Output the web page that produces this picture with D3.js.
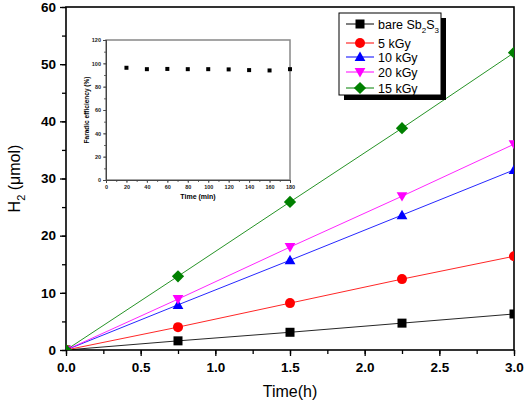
<!DOCTYPE html>
<html><head><meta charset="utf-8">
<script src="https://cdn.jsdelivr.net/npm/d3@7"></script>
<style>body{margin:0;background:#fff}svg{display:block}text{font-family:Arial,"Liberation Sans",sans-serif}</style>
</head><body><svg id="c" width="524" height="403"></svg>
<script>
const times = [0, 0.75, 1.5, 2.25, 3.0];
const seriesNames = ["bare Sb2S3", "5 kGy", "10 kGy", "20 kGy", "15 kGy"];
const bareVals = [0, 1.6, 3.1, 4.7, 6.3];
const kGy5Vals = [0, 4.0, 8.2, 12.4, 16.4];
const kGy10Vals = [0, 7.9, 15.7, 23.6, 31.5];
const kGy20Vals = [0, 8.9, 18.0, 26.9, 36.0];
const kGy15Vals = [0, 12.9, 25.9, 38.8, 52.0];
const seriesColors = ["#000000", "#ff0000", "#0000ff", "#ff00ff", "#008000"];
const seriesSymbols = ["square", "circle", "triangle", "invtriangle", "diamond"];
const xTicks = [0, 0.5, 1.0, 1.5, 2.0, 2.5, 3.0];
const yTicks = [0, 10, 20, 30, 40, 50, 60];
const insetTimes = [20, 40, 60, 80, 100, 120, 140, 160, 180];
const insetEff = [96.2, 95.0, 95.2, 95.0, 95.0, 94.8, 94.2, 93.9, 95.0];
const insetXTicks = [0, 20, 40, 60, 80, 100, 120, 140, 160, 180];
const insetYTicks = [0, 20, 40, 60, 80, 100, 120];

const allVals = [bareVals, kGy5Vals, kGy10Vals, kGy20Vals, kGy15Vals];
const svg = d3.select("#c");
const L = 66, R = 514, T = 7, B = 350;
const x = d3.scaleLinear().domain([0, 3]).range([L, R]);
const y = d3.scaleLinear().domain([0, 60]).range([B, T]);

svg.append("defs").append("clipPath").attr("id", "pc")
  .append("rect").attr("x", L).attr("y", T).attr("width", R - L).attr("height", B - T);

// ticks
const xAxisG = svg.append("g").attr("transform", `translate(0,${B})`);
xAxisG.call(d3.axisBottom(x).tickValues(d3.range(0, 3.01, 0.25)).tickSize(4).tickFormat(""));
xAxisG.append("g").call(d3.axisBottom(x).tickValues(xTicks).tickSize(6).tickPadding(6).tickFormat(d3.format(".1f")));
const yAxisG = svg.append("g").attr("transform", `translate(${L},0)`);
yAxisG.call(d3.axisLeft(y).tickValues(d3.range(0, 61, 5)).tickSize(4).tickFormat(""));
yAxisG.append("g").call(d3.axisLeft(y).tickValues(yTicks).tickSize(6).tickPadding(4));
svg.selectAll(".domain").remove();
svg.selectAll(".tick line").attr("stroke", "#000").attr("stroke-width", 1.3);
svg.selectAll(".tick text").attr("font-size", 13.5).attr("font-weight", "bold").attr("fill", "#000");

// frame
svg.append("rect").attr("x", L).attr("y", T).attr("width", R - L).attr("height", B - T)
  .attr("fill", "none").attr("stroke", "#000").attr("stroke-width", 1.6);

// axis titles
svg.append("text").attr("x", (L + R) / 2).attr("y", 397).attr("text-anchor", "middle")
  .attr("font-size", 16).text("Time(h)");
const yt = svg.append("text").attr("transform", `translate(20,${(T + B) / 2}) rotate(-90)`)
  .attr("text-anchor", "middle").attr("font-size", 16);
yt.append("tspan").text("H");
yt.append("tspan").attr("font-size", 11).attr("dy", 5).text("2");
yt.append("tspan").attr("dy", -5).text(" (\u03bcmol)");

// inset
const iL = 106, iR = 290, iT = 40, iB = 180;
const ix = d3.scaleLinear().domain([0, 180]).range([iL, iR]);
const iy = d3.scaleLinear().domain([0, 120]).range([iB, iT]);
const ig = svg.append("g");
ig.append("rect").attr("x", iL).attr("y", iT).attr("width", iR - iL).attr("height", iB - iT)
  .attr("fill", "#fff").attr("stroke", "#888").attr("stroke-width", 1.5);
const ixa = ig.append("g").attr("transform", `translate(0,${iB})`);
ixa.call(d3.axisBottom(ix).tickValues(d3.range(0, 181, 10)).tickSize(2).tickFormat(""));
ixa.append("g").call(d3.axisBottom(ix).tickValues(insetXTicks).tickSize(3).tickPadding(2));
const iya = ig.append("g").attr("transform", `translate(${iL},0)`);
iya.call(d3.axisLeft(iy).tickValues(d3.range(0, 121, 10)).tickSize(2).tickFormat(""));
iya.append("g").call(d3.axisLeft(iy).tickValues(insetYTicks).tickSize(3).tickPadding(2));
ig.selectAll(".domain").attr("stroke", "#444");
ig.selectAll(".tick line").attr("stroke", "#444").attr("stroke-width", 0.8);
ig.selectAll(".tick text").attr("font-size", 5.5).attr("font-weight", "bold").attr("fill", "#222");
ig.selectAll("rect.pt").data(insetTimes).enter().append("rect")
  .attr("x", (d) => ix(d) - 2).attr("y", (d, i) => iy(insetEff[i]) - 2)
  .attr("width", 4).attr("height", 4).attr("fill", "#000");
ig.append("text").attr("x", (iL + iR) / 2).attr("y", 199).attr("text-anchor", "middle")
  .attr("font-size", 7).attr("font-weight", "bold").text("Time (min)");
ig.append("text").attr("transform", `translate(89,${(iT + iB) / 2}) rotate(-90)`)
  .attr("text-anchor", "middle").attr("font-size", 6.5).attr("font-weight", "bold").text("Faradic efficiency (%)");

// symbols
function sym(g, type, color, cx, cy, s) {
  if (type === "square") g.append("rect").attr("x", cx - s / 2).attr("y", cy - s / 2).attr("width", s).attr("height", s).attr("fill", color);
  else if (type === "circle") g.append("circle").attr("cx", cx).attr("cy", cy).attr("r", s / 2 + 0.5).attr("fill", color);
  else if (type === "triangle") g.append("path").attr("d", `M${cx},${cy - s * 0.6}L${cx + s * 0.6},${cy + s * 0.45}L${cx - s * 0.6},${cy + s * 0.45}Z`).attr("fill", color);
  else if (type === "invtriangle") g.append("path").attr("d", `M${cx},${cy + s * 0.6}L${cx + s * 0.6},${cy - s * 0.45}L${cx - s * 0.6},${cy - s * 0.45}Z`).attr("fill", color);
  else if (type === "diamond") g.append("path").attr("d", `M${cx},${cy - s * 0.68}L${cx + s * 0.68},${cy}L${cx},${cy + s * 0.68}L${cx - s * 0.68},${cy}Z`).attr("fill", color);
}

const plotG = svg.append("g").attr("clip-path", "url(#pc)");
const line = d3.line().x((d, i) => x(times[i])).y((d) => y(d));
allVals.forEach((vals, k) => {
  plotG.append("path").attr("d", line(vals)).attr("fill", "none")
    .attr("stroke", seriesColors[k]).attr("stroke-width", 1).attr("opacity", 0.85);
});
allVals.forEach((vals, k) => {
  vals.forEach((v, i) => sym(plotG, seriesSymbols[k], seriesColors[k], x(times[i]), y(v), 9));
});

// legend
const lg = svg.append("g");
lg.append("rect").attr("x", 344).attr("y", 18).attr("width", 102).attr("height", 82).attr("fill", "#000");
lg.append("rect").attr("x", 339).attr("y", 13).attr("width", 102).attr("height", 82)
  .attr("fill", "#fff").attr("stroke", "#000").attr("stroke-width", 1);
const rowsY = [24, 43, 57, 72, 88];
seriesNames.forEach((n, k) => {
  const ry = rowsY[k];
  lg.append("line").attr("x1", 346).attr("x2", 374).attr("y1", ry).attr("y2", ry)
    .attr("stroke", seriesColors[k]).attr("stroke-width", 1);
  sym(lg, seriesSymbols[k], seriesColors[k], 360, ry, 9);
  const t = lg.append("text").attr("x", 378).attr("y", ry + 4.5).attr("font-size", 12.5);
  if (k === 0) {
    t.append("tspan").text("bare Sb");
    t.append("tspan").attr("font-size", 8).attr("dy", 4).text("2");
    t.append("tspan").attr("dy", -4).text("S");
    t.append("tspan").attr("font-size", 8).attr("dy", 4).text("3");
  } else t.text(n);
});
</script></body></html>
